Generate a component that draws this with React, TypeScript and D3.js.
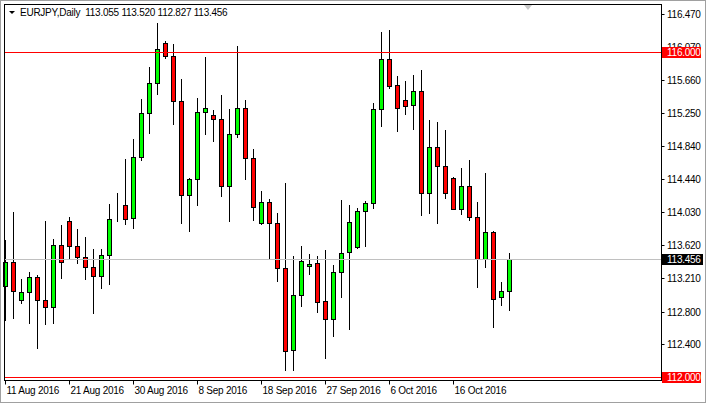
import React from 'react';
import * as d3 from 'd3';

// EURJPY daily candles, 11 Aug 2016 .. 24 Oct 2016 (broker has Sunday bars)
const opens = [
  113.117, 113.409, 112.940, 113.039, 113.224, 112.940, 112.854, 113.619,
  113.915, 113.607, 113.471, 113.348, 113.236, 113.496, 114.118, 114.113,
  113.952, 114.706, 115.249, 115.619, 116.113, 115.952, 115.397, 114.236,
  114.434, 115.261, 115.224, 115.175, 114.348, 114.989, 115.310, 114.693,
  113.891, 114.150, 113.891, 113.335, 112.323, 113.002, 113.360, 113.397,
  112.928, 112.706, 113.286, 113.533, 113.594, 114.039, 114.138, 115.298,
  115.915, 115.594, 115.409, 115.348, 115.524, 114.269, 114.829, 114.594,
  114.446, 114.072, 114.348, 113.973, 113.454, 113.780, 112.977, 113.055,
];
const highs = [
  113.685, 114.027, 113.199, 113.286, 113.249, 113.920, 113.697, 113.870,
  113.969, 113.817, 113.722, 113.570, 113.570, 114.134, 114.261, 114.689,
  114.936, 115.426, 115.821, 116.360, 116.138, 116.105, 115.668, 114.446,
  115.438, 115.944, 115.290, 115.475, 115.302, 116.080, 115.413, 114.804,
  114.286, 114.187, 114.014, 114.389, 113.487, 113.607, 113.512, 113.483,
  113.566, 113.372, 114.179, 114.113, 114.076, 114.162, 115.376, 116.253,
  116.278, 115.710, 115.648, 115.722, 115.784, 115.166, 115.142, 115.043,
  114.463, 114.574, 114.673, 114.154, 114.516, 113.800, 113.166, 113.520,
];
const lows = [
  112.697, 112.718, 112.911, 112.664, 112.356, 112.644, 112.656, 113.220,
  113.446, 113.397, 113.208, 112.780, 113.088, 113.138, 113.915, 113.887,
  113.837, 114.668, 115.010, 115.492, 115.936, 115.113, 113.891, 113.800,
  114.117, 114.998, 114.911, 114.232, 113.920, 114.961, 114.442, 113.932,
  113.883, 113.454, 113.183, 112.080, 112.080, 112.874, 113.265, 112.796,
  112.232, 112.504, 112.981, 112.590, 113.582, 113.615, 114.076, 115.092,
  115.566, 115.035, 115.241, 115.059, 113.998, 114.022, 113.899, 114.199,
  114.068, 114.010, 113.936, 113.109, 113.356, 112.607, 112.887, 112.827,
];
const closes = [
  113.409, 113.051, 113.039, 113.224, 112.940, 112.854, 113.619, 113.409,
  113.607, 113.471, 113.348, 113.236, 113.496, 113.940, 114.118, 113.940,
  114.706, 115.249, 115.619, 116.039, 115.957, 115.397, 114.236, 114.434,
  115.261, 115.310, 115.175, 114.348, 114.989, 115.310, 114.693, 114.088,
  114.150, 113.891, 113.335, 112.310, 113.002, 113.422, 113.393, 112.915,
  112.706, 113.286, 113.520, 113.907, 114.039, 114.142, 115.298, 115.915,
  115.590, 115.310, 115.335, 115.524, 114.269, 114.829, 114.594, 114.269,
  114.072, 114.348, 113.973, 113.454, 113.780, 112.952, 113.051, 113.456,
];

const dateTickIdx = [0, 8, 16, 24, 32, 40, 48, 56];
const dateTicks = ['11 Aug 2016', '21 Aug 2016', '30 Aug 2016', '8 Sep 2016',
  '18 Sep 2016', '27 Sep 2016', '6 Oct 2016', '16 Oct 2016'];
const priceTicks = [116.47, 116.07, 115.66, 115.25, 114.84, 114.44, 114.03,
  113.62, 113.21, 112.8, 112.4];
const levels = [116.0, 112.0];
const lastPrice = 113.456;
const header = 'EURJPY,Daily  113.055 113.520 112.827 113.456';

const W = 706;
const H = 403;
const plot = { left: 4.5, top: 4.5, right: 661.5, bottom: 380.5 };
const font = '"Liberation Sans", Arial, sans-serif';
const fs = 10;
const ls = -0.25;

const App = () => {
  const x = d3.scaleLinear().domain([0, 63]).range([5.5, 509.5]);
  const y = d3.scaleLinear().domain([112.0, 116.47]).range([376.5, 14.4]);
  const py = (v) => Math.round(y(v));
  const fmt = d3.format('.3f');

  return (
    <div style={{ position: 'fixed', left: 0, top: 0 }}>
      <svg width={W} height={H} style={{ display: 'block', fontFamily: font }}>
        <rect x={0} y={0} width={W} height={H} fill="#fff" />
        <rect x={0.5} y={0.5} width={W - 1} height={H - 1} fill="none" stroke="#a0a0a0" />

        {/* candles */}
        {opens.map((o, i) => {
          const c = closes[i];
          const cx = x(i);
          const top = py(Math.max(o, c));
          const bot = py(Math.min(o, c));
          return (
            <g key={i}>
              <line x1={cx} x2={cx} y1={py(highs[i])} y2={py(lows[i]) + 1} stroke="#000" />
              <rect x={cx - 2} y={top + 0.5} width={4} height={bot - top}
                fill={c >= o ? '#00ff00' : '#ff0000'} stroke="#000" />
            </g>
          );
        })}

        {/* bid line */}
        <line x1={plot.left} x2={plot.right} y1={py(lastPrice) + 0.5} y2={py(lastPrice) + 0.5} stroke="#c0c0c0" />
        {/* horizontal levels */}
        {levels.map((l) => (
          <line key={l} x1={plot.left} x2={plot.right} y1={py(l) + 0.5} y2={py(l) + 0.5} stroke="#ff0000" />
        ))}

        {/* frame */}
        <rect x={plot.left} y={plot.top} width={plot.right - plot.left} height={plot.bottom - plot.top}
          fill="none" stroke="#000" />
        {/* chart shift marker */}
        <path d="M524,5 L532,5 L528,10 Z" fill="#c8c8c8" />

        {/* header */}
        <path d="M9,11 L15,11 L12,14 Z" fill="#000" />
        <text x={20} y={16} fontSize={fs} letterSpacing={ls} fill="#000" style={{ whiteSpace: 'pre' }}>{header}</text>

        {/* price axis */}
        {priceTicks.map((t) => (
          <g key={t}>
            <line x1={plot.right} x2={plot.right + 3} y1={py(t) + 0.5} y2={py(t) + 0.5} stroke="#000" />
            <text x={667} y={py(t) + 4} fontSize={fs} letterSpacing={ls} fill="#000">{fmt(t)}</text>
          </g>
        ))}
        {levels.map((l) => (
          <g key={l}>
            <rect x={662} y={py(l) - 5} width={39} height={11} fill="#ff0000" />
            <text x={667} y={py(l) + 4} fontSize={fs} letterSpacing={ls} fill="#fff">{fmt(l)}</text>
          </g>
        ))}
        <rect x={662} y={py(lastPrice) - 5} width={41} height={11} fill="#000" />
        <text x={667} y={py(lastPrice) + 4} fontSize={fs} letterSpacing={ls} fill="#fff">{fmt(lastPrice)}</text>

        {/* time axis */}
        {dateTickIdx.map((idx, j) => (
          <g key={idx}>
            <line x1={x(idx)} x2={x(idx)} y1={plot.bottom} y2={plot.bottom + 4} stroke="#000" />
            <text x={x(idx) + 1} y={394} fontSize={fs} letterSpacing={ls} fill="#000">{dateTicks[j]}</text>
          </g>
        ))}
      </svg>
    </div>
  );
};

export default App;
